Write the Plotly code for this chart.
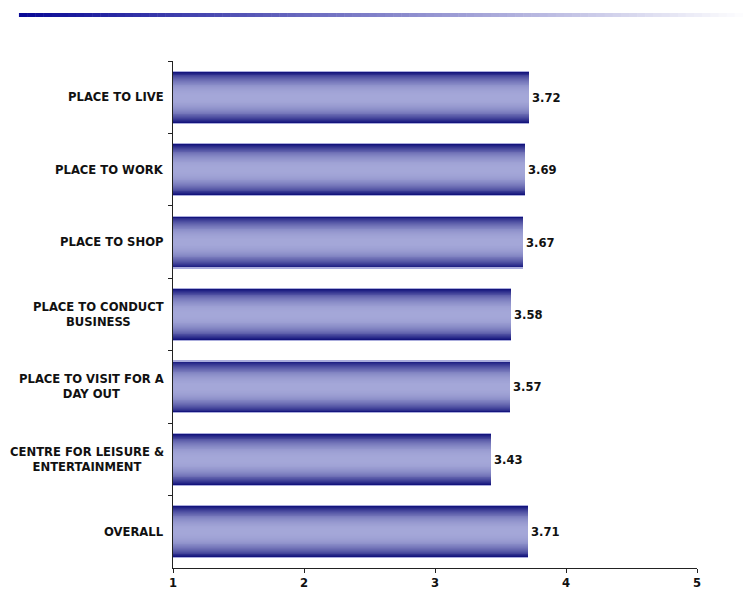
import plotly.graph_objects as go

categories = [
    "PLACE TO LIVE",
    "PLACE TO WORK",
    "PLACE TO SHOP",
    "PLACE TO CONDUCT<br>BUSINESS",
    "PLACE TO VISIT FOR A<br>DAY OUT",
    "CENTRE FOR LEISURE &<br>ENTERTAINMENT",
    "OVERALL",
]
scores = [3.72, 3.69, 3.67, 3.58, 3.57, 3.43, 3.71]
x_ticks = [1, 2, 3, 4, 5]

FONT = "DejaVu Sans"
LABEL_SIZE = 11.6
EDGE = (20, 20, 124)
CENTER = (164, 167, 216)
RIM = (170, 172, 220)


def mix(a, b, t):
    return "rgb(%d,%d,%d)" % tuple(round(a[i] + (b[i] - a[i]) * t) for i in range(3))


fig = go.Figure()

# Bars drawn as stacked overlay layers to shade from dark edges to a pale centre
full_width = 0.73
fig.add_trace(go.Bar(
    y=categories, x=scores, orientation="h", width=full_width,
    marker=dict(color=mix(RIM, RIM, 0), line=dict(width=0)),
    text=["%.2f" % v for v in scores], textposition="outside",
    textfont=dict(family=FONT, size=LABEL_SIZE, color="#111", weight="bold"),
    cliponaxis=False, hoverinfo="skip", showlegend=False,
))
n_layers = 28
for i in range(n_layers):
    frac = i / (n_layers - 1)          # 0 outer edge -> 1 centre
    w = (full_width - 0.028) * (1 - frac * 0.97)
    shade = 1 - (1 - frac) ** 2.4
    fig.add_trace(go.Bar(
        y=categories, x=scores, orientation="h", width=w,
        marker=dict(color=mix(EDGE, CENTER, shade), line=dict(width=0)),
        hoverinfo="skip", showlegend=False,
    ))

# Category labels, centred lines and right-aligned against the axis
for cat in categories:
    fig.add_annotation(
        x=0, xref="paper", y=cat, yref="y", xanchor="right", yanchor="middle",
        xshift=-7, text=cat, showarrow=False, align="center",
        font=dict(family=FONT, size=LABEL_SIZE, color="#111", weight="bold"),
    )

# Header rule fading from deep blue to white
n_seg = 90
x0, x1 = -0.294, 1.103
for i in range(n_seg):
    t = i / (n_seg - 1)
    fig.add_shape(
        type="rect", xref="paper", yref="paper",
        x0=x0 + (x1 - x0) * i / n_seg, x1=x0 + (x1 - x0) * (i + 1) / n_seg + 0.001,
        y0=1.0868, y1=1.0947, line=dict(width=0),
        fillcolor=mix((10, 10, 150), (255, 255, 255), t ** 1.0),
    )

fig.update_layout(
    width=751, height=590,
    margin=dict(l=173, r=54, t=61, b=22, autoexpand=False),
    paper_bgcolor="white", plot_bgcolor="white",
    barmode="overlay", bargap=0,
    font=dict(family=FONT, size=LABEL_SIZE, color="#111"),
    xaxis=dict(
        range=[1, 5], tickvals=x_ticks, ticktext=[str(v) for v in x_ticks],
        showgrid=False, zeroline=False, showline=True, linecolor="#222", linewidth=1,
        ticks="outside", ticklen=4, tickcolor="#222", ticklabelstandoff=0,
        automargin=False,
        tickfont=dict(family=FONT, size=LABEL_SIZE, color="#111", weight="bold"),
    ),
    yaxis=dict(
        categoryorder="array", categoryarray=categories, autorange="reversed",
        showticklabels=False, showgrid=False, zeroline=False,
        showline=True, linecolor="#222", linewidth=1, automargin=False,
        ticks="outside", ticklen=4, tickcolor="#222", tickson="boundaries",
    ),
)

fig.write_html("out.html")
